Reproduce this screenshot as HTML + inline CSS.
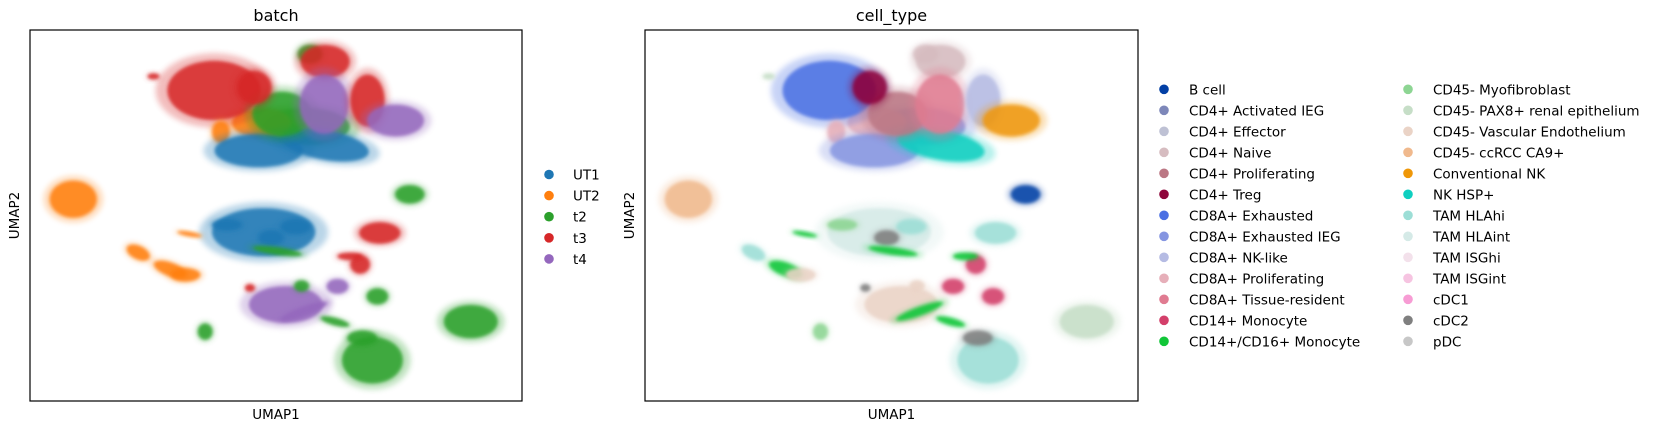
<!DOCTYPE html>
<html><head><meta charset="utf-8">
<style>
body{margin:0;background:#fff;}
svg{display:block;font-family:"DejaVu Sans","Liberation Sans",sans-serif;}
</style></head>
<body>
<svg id="fig" width="1661" height="429" viewBox="0 0 1661 429">
<defs>
<filter id="soft" x="-50%" y="-50%" width="200%" height="200%"><feGaussianBlur stdDeviation="1.6"/></filter>
<filter id="haze" x="-50%" y="-50%" width="200%" height="200%"><feGaussianBlur stdDeviation="3"/></filter>
</defs>
<g id="panelL"></g>
<g id="panelR"></g>
<g id="legendB"></g>
<g id="legendC"></g>
</svg>
<script>
// ----- data (UMAP coords, 0..100 normalized) -----
const umap1   = [56,47,37.4,25.1,38.8,46.5,60,51.2,56.9,60,45.6,59.8,68.6,74.3,8.8,77.2,47.5,40,54,49,22,28.5,32.4,31.6,71.1,67.1,50.3,52,55.7,62.5,70.6,89.6,69.6,67.5,35.6,55.2,62,65,44.7];
const umap2   = [74,75,83.7,87.5,72.5,67.5,69,77.4,93.5,91.5,84.5,80,81,75.6,54.4,55.7,45.5,47.5,47,44,40,35.5,45,34,45.3,36.8,40.4,26,24.2,30.9,28.2,21.4,11,17,18.7,31,21.4,39,30.5];
const spreadX = [9,6,9.5,1.2,1.8,9,9,6,2.5,5,3.5,5,3.5,5.8,4.8,3,10.5,3,3,2.5,2.5,3.5,2.5,3,4.2,2,5,7.5,5,2.2,2.2,5.5,6.2,3,1.5,1.5,3,2.5,1];
const spreadY = [5,4,8,0.8,3,4.5,4,6,2.5,4.5,4.5,8,7,4.3,5,2.5,6.5,1.5,2,2,1.8,1.8,0.6,1.8,2.9,2.5,1,5,1.2,2,2.2,4.5,6.3,2,2.2,1.5,1,1,1];
const angle   = [0,0,0,0,0,0,-10,0,0,0,0,0,0,0,0,0,0,0,0,0,-25,-20,-10,0,0,0,-8,0,20,0,0,0,0,0,0,0,-15,0,0];
const batch   = ["t2","UT2","t3","t3","UT2","UT1","UT1","t2","t2","t3","t3","t4","t3","t4","UT2","t2","UT1","UT1","UT1","UT1","UT2","UT2","UT2","UT2","t3","t3","t2","t4","t4","t4","t2","t2","t2","t2","t2","t2","t2","t3","t3"];
const cellType= ["CD8A+ Exhausted IEG","CD8A+ Proliferating","CD8A+ Exhausted","CD45- PAX8+ renal epithelium","CD8A+ Proliferating","CD8A+ Exhausted IEG","NK HSP+","CD4+ Proliferating","CD4+ Naive","CD4+ Naive","CD4+ Treg","CD8A+ Tissue-resident","CD8A+ NK-like","Conventional NK","CD45- ccRCC CA9+","B cell","TAM HLAint","CD45- Myofibroblast","TAM HLAhi","cDC2","TAM HLAhi","CD14+/CD16+ Monocyte","CD14+/CD16+ Monocyte","CD45- Vascular Endothelium","TAM HLAhi","CD14+ Monocyte","CD14+/CD16+ Monocyte","CD45- Vascular Endothelium","CD14+/CD16+ Monocyte","CD14+ Monocyte","CD14+ Monocyte","CD45- PAX8+ renal epithelium","TAM HLAhi","cDC2","CD45- Myofibroblast","CD45- Vascular Endothelium","CD14+/CD16+ Monocyte","CD14+/CD16+ Monocyte","cDC2"];
const batchCats = ["UT1","UT2","t2","t3","t4"];
const batchColors = ["#1f77b4","#ff7f0e","#2ca02c","#d62728","#9467bd"];
const cellCats = ["B cell","CD4+ Activated IEG","CD4+ Effector","CD4+ Naive","CD4+ Proliferating","CD4+ Treg","CD8A+ Exhausted","CD8A+ Exhausted IEG","CD8A+ NK-like","CD8A+ Proliferating","CD8A+ Tissue-resident","CD14+ Monocyte","CD14+/CD16+ Monocyte","CD45- Myofibroblast","CD45- PAX8+ renal epithelium","CD45- Vascular Endothelium","CD45- ccRCC CA9+","Conventional NK","NK HSP+","TAM HLAhi","TAM HLAint","TAM ISGhi","TAM ISGint","cDC1","cDC2","pDC"];
const cellColors = ["#023fa5","#7d87b9","#bec1d4","#d6bcc0","#bb7784","#8e063b","#4a6fe3","#8595e1","#b5bbe3","#e6afb9","#e07b91","#d33f6a","#11c638","#8dd593","#c6dec7","#ead3c6","#f0b98d","#ef9708","#0fcfc0","#9cded6","#d5eae7","#f3e1eb","#f6c4e1","#f79cd4","#7f7f7f","#c7c7c7"];

const NS="http://www.w3.org/2000/svg";
function mk(tag,attrs,parent){const e=document.createElementNS(NS,tag);for(const k in attrs)e.setAttribute(k,attrs[k]);parent.appendChild(e);return e;}

function drawPanel(g,x0,x1,y0,y1,title,colorFor,prefix){
  const sx=v=>x0+v/100*(x1-x0), sy=v=>y1-v/100*(y1-y0);
  const kx=(x1-x0)/100, ky=(y1-y0)/100;
  for(let i=0;i<umap1.length;i++){
    const cx=sx(umap1[i]), cy=sy(umap2[i]), col=colorFor(i);
    const halo=mk('ellipse',{cx:cx,cy:cy,rx:spreadX[i]*kx*1.25,ry:spreadY[i]*ky*1.25,fill:col,opacity:0.3,filter:'url(#haze)',transform:`rotate(${-angle[i]} ${cx} ${cy})`},g);
    
    
    const core=mk('ellipse',{cx:cx,cy:cy,rx:spreadX[i]*kx,ry:spreadY[i]*ky,fill:col,opacity:0.85,filter:'url(#soft)',transform:`rotate(${-angle[i]} ${cx} ${cy})`},g);
    
    
  }
  const fr=mk('rect',{x:x0,y:y0,width:x1-x0,height:y1-y0,fill:'none',stroke:'#000','stroke-width':1.2},g);
  
  
  const t=mk('text',{x:(x0+x1)/2,y:21,'text-anchor':'middle','font-size':16},g);t.textContent=title;
  
  
  const xl=mk('text',{x:(x0+x1)/2,y:419,'text-anchor':'middle','font-size':13.5},g);xl.textContent='UMAP1';
  
  
  const yc=(y0+y1)/2, yx=x0-11;
  const yl=mk('text',{x:yx,y:yc,'text-anchor':'middle','font-size':13.5,transform:`rotate(-90 ${yx} ${yc})`},g);yl.textContent='UMAP2';
  
  
}
drawPanel(document.getElementById('panelL'),30,522,30,401,'batch',i=>batchColors[batchCats.indexOf(batch[i])],'batch');
drawPanel(document.getElementById('panelR'),645,1138,30,401,'cell_type',i=>cellColors[cellCats.indexOf(cellType[i])],'cell-type');

const lb=document.getElementById('legendB');
batchCats.forEach((c,i)=>{
  const y=174.5+i*21.1;
  const m=mk('circle',{cx:549,cy:y,r:4.8,fill:batchColors[i]},lb);
  
  
  const t=mk('text',{x:573,y:y+5,'font-size':13.5},lb);t.textContent=c;
  
  
});
const lc=document.getElementById('legendC');
cellCats.forEach((c,i)=>{
  const col=i<13?0:1, row=i%13, y=89.3+row*21;
  const mx=col?1408:1164, tx=col?1433:1189;
  const m=mk('circle',{cx:mx,cy:y,r:4.8,fill:cellColors[i]},lc);
  
  
  const t=mk('text',{x:tx,y:y+5,'font-size':13.5},lc);t.textContent=c;
  
  
});
</script>
</body></html>
